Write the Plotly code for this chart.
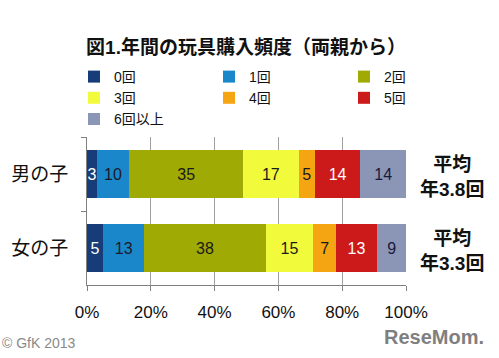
import plotly.graph_objects as go

categories = ["男の子", "女の子"]
series_names = ["0回", "1回", "2回", "3回", "4回", "5回", "6回以上"]
values = {
    "0回": [3, 5],
    "1回": [10, 13],
    "2回": [35, 38],
    "3回": [17, 15],
    "4回": [5, 7],
    "5回": [14, 13],
    "6回以上": [14, 9],
}
averages = ["平均<br>年3.8回", "平均<br>年3.3回"]
x_ticks = [0, 20, 40, 60, 80, 100]
x_tick_labels = ["0%", "20%", "40%", "60%", "80%", "100%"]

colors = ["#173D78", "#1A87CB", "#A0AA05", "#F2FA3C", "#F5A512", "#CC1A1A", "#8B95B6"]
text_colors = ["#FFFFFF", "#1A1A2A", "#1A1A1A", "#1A1A1A", "#1A1A1A", "#FFFFFF", "#1A1A3A"]

FONT = "Liberation Sans, Arial, Noto Sans CJK JP, sans-serif"

L, R, T, B = 87, 93, 137, 73
W, H = 499, 358
PW, PH = W - L - R, H - T - B


def px_x(px):
    return (px - L) / PW


def px_y(py):
    return (H - B - py) / PH


fig = go.Figure()
for name, c, tc in zip(series_names, colors, text_colors):
    fig.add_trace(go.Bar(
        y=categories, x=values[name], name=name, orientation="h",
        marker=dict(color=c, line=dict(width=0)),
        text=[str(v) for v in values[name]], textposition="inside",
        insidetextanchor="middle", constraintext="none",
        textfont=dict(color=tc, size=16, family=FONT),
        hoverinfo="skip",
    ))

for cat, avg in zip(categories, averages):
    fig.add_annotation(
        x=px_x(452), xref="paper", y=cat, yref="y", text="<b>" + avg + "</b>",
        showarrow=False, xanchor="center", yanchor="middle", yshift=-3,
        font=dict(size=19, color="#111111", family=FONT), align="center",
    )

fig.add_annotation(x=px_x(0), xref="paper", y=px_y(343), yref="paper",
                   text="© GfK 2013", showarrow=False, xanchor="left", yanchor="middle",
                   font=dict(size=14, color="#8A8A8A", family=FONT))
fig.add_annotation(x=px_x(486), xref="paper", y=px_y(337), yref="paper",
                   text="<b>ReseMom.</b>", showarrow=False, xanchor="right", yanchor="middle",
                   font=dict(size=20, color="#7F7F7F", family=FONT))

fig.update_layout(
    width=W, height=H,
    margin=dict(l=L, r=R, t=T, b=B, autoexpand=False),
    paper_bgcolor="white", plot_bgcolor="white",
    barmode="stack", barnorm="percent", bargap=0.36,
    font=dict(family=FONT, color="#111111"),
    title=dict(text="<b>図1.年間の玩具購入頻度（両親から）</b>",
               x=246 / W, xref="container", xanchor="center",
               y=1 - 47 / H, yref="container", yanchor="middle",
               font=dict(size=19, color="#111111", family=FONT)),
    legend=dict(orientation="h", x=px_x(74), xref="paper", xanchor="left",
                y=px_y(61), yref="paper", yanchor="top",
                traceorder="normal", entrywidth=90, entrywidthmode="pixels",
                itemwidth=30, tracegroupgap=0,
                font=dict(size=14, color="#111111", family=FONT),
                bgcolor="rgba(0,0,0,0)"),
    showlegend=True,
)
fig.update_xaxes(range=[0, 100], tickvals=x_ticks, ticktext=x_tick_labels,
                 showgrid=True, gridcolor="#A0A0A0", gridwidth=1,
                 showline=True, linecolor="#808080", linewidth=1,
                 ticks="outside", ticklen=5, tickcolor="#808080",
                 ticklabelstandoff=7,
                 tickfont=dict(size=17, color="#111111", family=FONT), zeroline=False)
fig.update_yaxes(autorange="reversed", showline=True, linecolor="#808080", linewidth=1,
                 ticks="outside", ticklen=5, tickcolor="#808080", tickson="boundaries",
                 ticklabelstandoff=14,
                 tickfont=dict(size=19, color="#111111", family=FONT), showgrid=False)

fig.write_html("out.html", config={"displayModeBar": False},
               post_script="document.body.style.margin='0';document.body.style.overflow='hidden';")
